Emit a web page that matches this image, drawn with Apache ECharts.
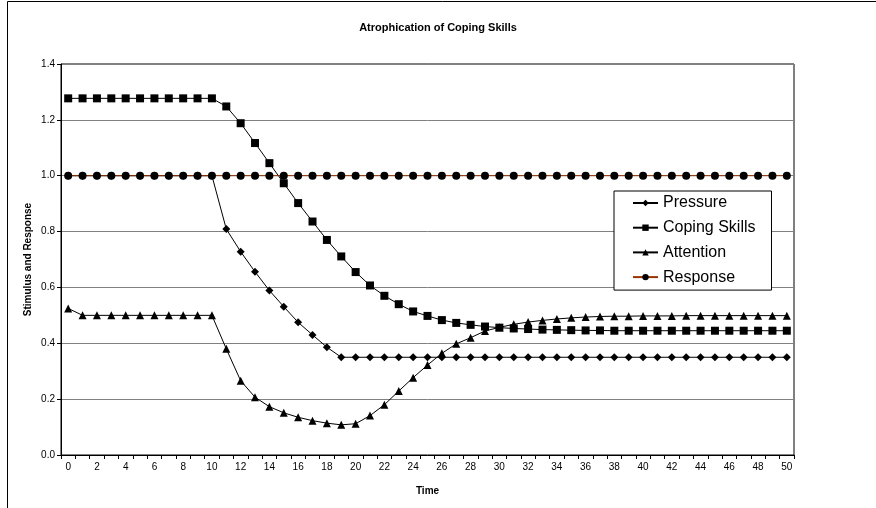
<!DOCTYPE html>
<html>
<head>
<meta charset="utf-8">
<title>Atrophication of Coping Skills</title>
<script src="https://cdn.jsdelivr.net/npm/echarts@6/dist/echarts.min.js"></script>
<style>
  html, body { margin: 0; padding: 0; background: #fff; }
  #chart { width: 876px; height: 508px; }
</style>
</head>
<body>
<div id="chart"></div>
<script>
// Time steps 0..50
const timeSteps = [
  0, 1, 2, 3, 4, 5, 6, 7, 8, 9, 10,
  11, 12, 13, 14, 15, 16, 17, 18, 19, 20,
  21, 22, 23, 24, 25, 26, 27, 28, 29, 30,
  31, 32, 33, 34, 35, 36, 37, 38, 39, 40,
  41, 42, 43, 44, 45, 46, 47, 48, 49, 50
];

const pressure = [
  1.0, 1.0, 1.0, 1.0, 1.0, 1.0, 1.0, 1.0, 1.0, 1.0, 1.0,
  0.809, 0.728, 0.656, 0.589, 0.531, 0.475, 0.43, 0.386, 0.35, 0.35,
  0.35, 0.35, 0.35, 0.35, 0.35, 0.35, 0.35, 0.35, 0.35, 0.35,
  0.35, 0.35, 0.35, 0.35, 0.35, 0.35, 0.35, 0.35, 0.35, 0.35,
  0.35, 0.35, 0.35, 0.35, 0.35, 0.35, 0.35, 0.35, 0.35, 0.35
];

const copingSkills = [
  1.277, 1.277, 1.277, 1.277, 1.277, 1.277, 1.277, 1.277, 1.277, 1.277, 1.277,
  1.248, 1.188, 1.117, 1.045, 0.973, 0.902, 0.836, 0.77, 0.711, 0.655,
  0.607, 0.57, 0.54, 0.514, 0.498, 0.483, 0.473, 0.466, 0.46, 0.456,
  0.453, 0.451, 0.449, 0.448, 0.447, 0.446, 0.446, 0.445, 0.445, 0.445,
  0.445, 0.445, 0.445, 0.445, 0.445, 0.445, 0.445, 0.445, 0.445, 0.445
];

const attention = [
  0.525, 0.5, 0.5, 0.5, 0.5, 0.5, 0.5, 0.5, 0.5, 0.5, 0.5,
  0.38, 0.266, 0.207, 0.173, 0.151, 0.135, 0.123, 0.114, 0.108, 0.112,
  0.141, 0.18, 0.229, 0.277, 0.322, 0.364, 0.398, 0.42, 0.444, 0.457,
  0.468, 0.476, 0.482, 0.487, 0.491, 0.494, 0.496, 0.497, 0.497, 0.498,
  0.498, 0.498, 0.499, 0.499, 0.499, 0.499, 0.499, 0.499, 0.499, 0.499
];

const response = [
  1.0, 1.0, 1.0, 1.0, 1.0, 1.0, 1.0, 1.0, 1.0, 1.0, 1.0,
  1.0, 1.0, 1.0, 1.0, 1.0, 1.0, 1.0, 1.0, 1.0, 1.0,
  1.0, 1.0, 1.0, 1.0, 1.0, 1.0, 1.0, 1.0, 1.0, 1.0,
  1.0, 1.0, 1.0, 1.0, 1.0, 1.0, 1.0, 1.0, 1.0, 1.0,
  1.0, 1.0, 1.0, 1.0, 1.0, 1.0, 1.0, 1.0, 1.0, 1.0
];

const yTicks = { min: 0, max: 1.4, step: 0.2 };

const FONT = 'Arial, "Liberation Sans", sans-serif';

function lineSeries(name, data, symbol, size, lineColor) {
  return {
    name: name,
    type: 'line',
    data: data,
    symbol: symbol,
    symbolSize: size,
    showSymbol: true,
    lineStyle: { color: lineColor, width: 1 },
    itemStyle: { color: '#000', borderWidth: 0 },
    emphasis: { disabled: true },
    z: 3
  };
}

const chart = echarts.init(document.getElementById('chart'), null, { renderer: 'canvas' });

chart.setOption({
  animation: false,
  backgroundColor: '#fff',
  title: {
    text: 'Atrophication of Coping Skills',
    left: 'center',
    top: 17,
    textStyle: { fontFamily: FONT, fontSize: 11, fontWeight: 'bold', color: '#000' }
  },
  graphic: [{
    type: 'rect',
    shape: { x: 7.5, y: 1.5, width: 1000, height: 1000 },
    style: { fill: 'none', stroke: '#000', lineWidth: 1 },
    silent: true,
    z: 0
  }],
  grid: {
    left: 61,
    right: 82,
    top: 64,
    bottom: 53,
    show: true,
    borderColor: '#000',
    borderWidth: 1,
    backgroundColor: 'transparent'
  },
  legend: {
    orient: 'vertical',
    left: 614,
    top: 191,
    padding: [4, 16, 5, 18],
    itemWidth: 25,
    itemHeight: 8,
    itemGap: 8.7,
    backgroundColor: '#fff',
    borderColor: '#000',
    borderWidth: 1,
    borderRadius: 0,
    textStyle: { fontFamily: FONT, fontSize: 16, color: '#000', lineHeight: 16 },
    data: ['Pressure', 'Coping Skills', 'Attention', 'Response']
  },
  xAxis: {
    type: 'category',
    data: timeSteps,
    boundaryGap: true,
    name: 'Time',
    nameLocation: 'middle',
    nameGap: 31,
    nameTextStyle: { fontFamily: FONT, fontSize: 10, fontWeight: 'bold', color: '#000' },
    axisLine: { lineStyle: { color: '#000', width: 1 } },
    axisTick: { show: true, interval: 0, length: 4, inside: false, lineStyle: { color: '#000' } },
    axisLabel: { interval: 1, margin: 7, fontFamily: FONT, fontSize: 10, color: '#000' },
    splitLine: { show: false }
  },
  yAxis: {
    type: 'value',
    min: yTicks.min,
    max: yTicks.max,
    interval: yTicks.step,
    name: 'Stimulus and Response',
    nameLocation: 'middle',
    nameGap: 28,
    nameMoveOverlap: false,
    nameTextStyle: { fontFamily: FONT, fontSize: 10, fontWeight: 'bold', color: '#000' },
    axisLine: { show: true, lineStyle: { color: '#000', width: 1 } },
    axisTick: { show: true, length: 4, lineStyle: { color: '#000' } },
    axisLabel: {
      margin: 6,
      fontFamily: FONT,
      fontSize: 10,
      color: '#000',
      formatter: v => v.toFixed(1)
    },
    splitLine: { show: true, lineStyle: { color: '#808080', width: 1 } }
  },
  series: [
    lineSeries('Pressure', pressure, 'diamond', 8, '#000'),
    lineSeries('Coping Skills', copingSkills, 'rect', 8, '#000'),
    lineSeries('Attention', attention, 'triangle', 8, '#000'),
    lineSeries('Response', response, 'circle', 8, '#993300')
  ]
});
</script>
</body>
</html>
